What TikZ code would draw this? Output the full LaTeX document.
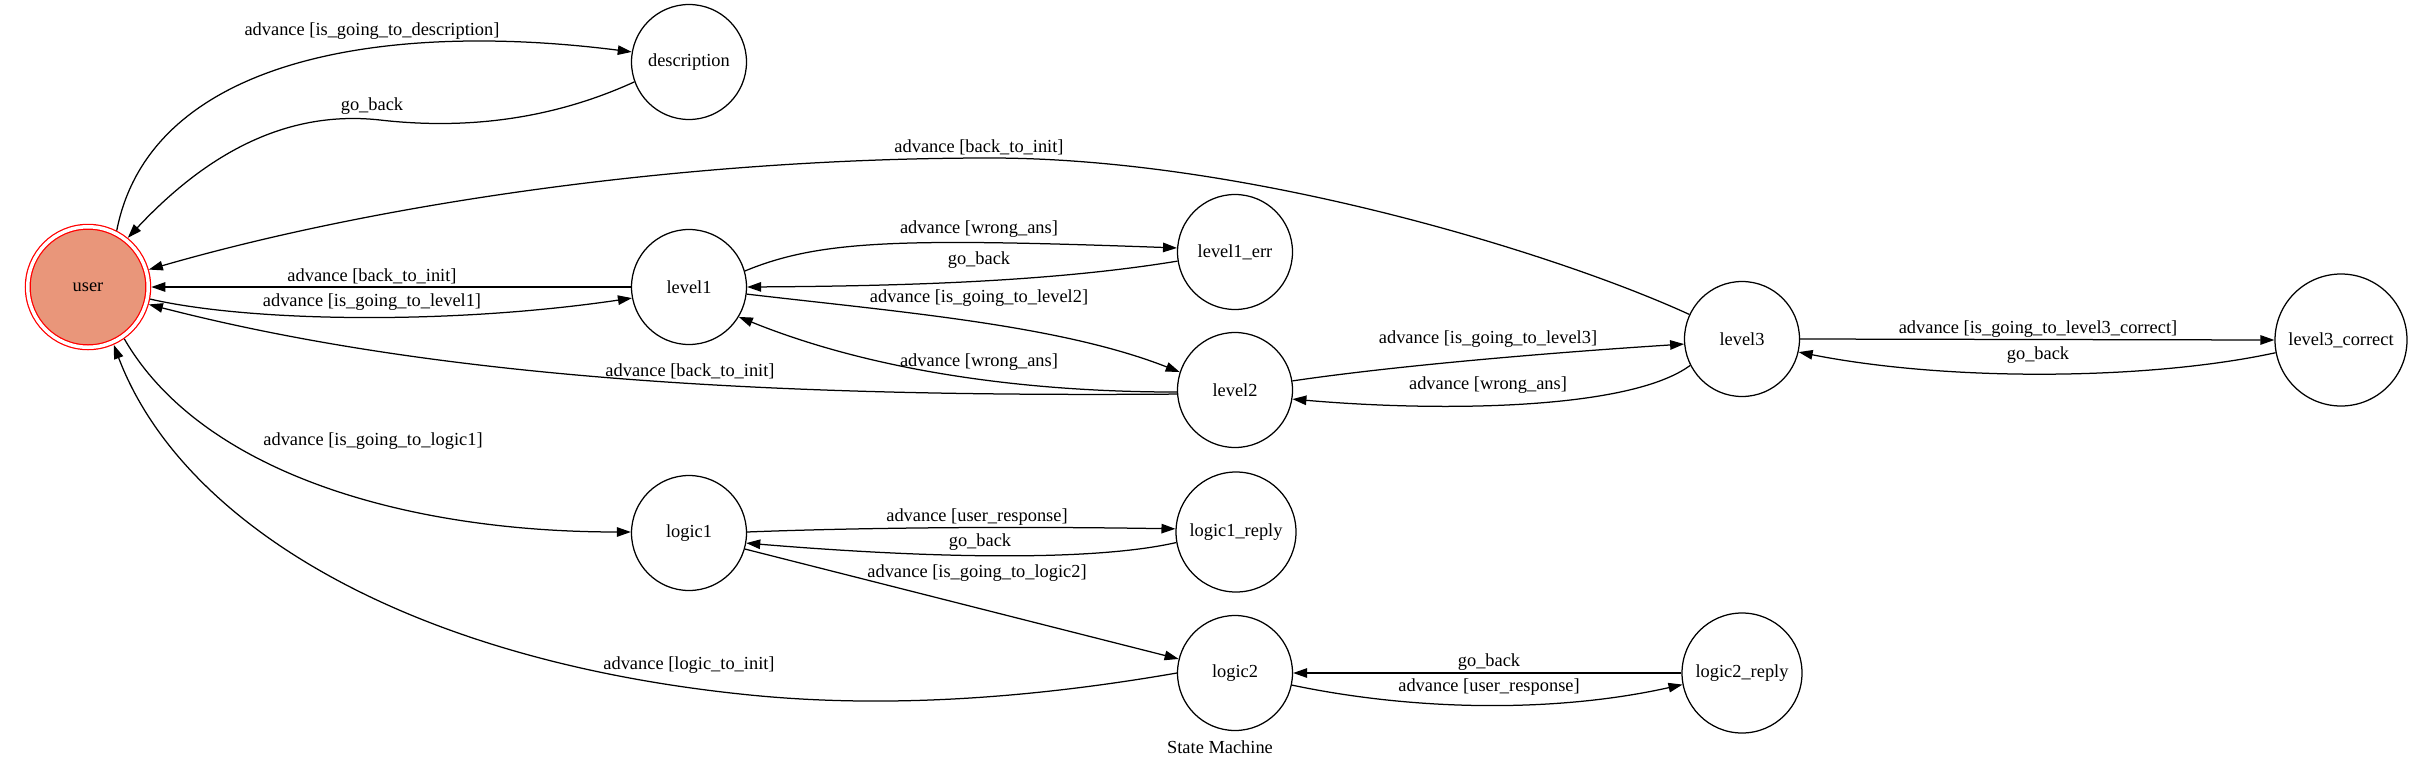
\documentclass[tikz,border=0pt]{standalone}
\usepackage{fontspec}
\setmainfont{Liberation Serif}
\usetikzlibrary{arrows.meta}
\definecolor{usersalmon}{RGB}{233,150,122}
\newcommand\lblfont{\fontsize{18.4pt}{22pt}\selectfont}
\begin{document}
\begin{tikzpicture}[x=1pt,y=-1pt,
  state/.style={circle, draw=black, line width=1.25pt, inner sep=0pt, minimum size=115pt, font=\lblfont},
  bigstate/.style={state, minimum size=120pt},
  hugestate/.style={state, minimum size=132pt},
  initstate/.style={state, draw=red, fill=usersalmon, double=white, double distance=3.5pt, minimum size=120.5pt, outer sep=3.05pt},
  edge/.style={line width=1.25pt, draw=black, -{Triangle[length=14pt,width=9.5pt]}},
  lbl/.style={font=\lblfont, inner sep=0pt}]
\useasboundingbox (0,0) rectangle (2433,769);
% nodes
\node[initstate] (user) at (88,287) {user};
\node[state] (description) at (689,62) {description};
\node[state] (level1) at (689,287) {level1};
\node[state] (level1_err) at (1235,252) {level1\_err};
\node[state] (level2) at (1235,390) {level2};
\node[state] (level3) at (1742,339) {level3};
\node[hugestate] (level3_correct) at (2341,340) {level3\_correct};
\node[state] (logic1) at (689,533) {logic1};
\node[bigstate] (logic1_reply) at (1236,532) {logic1\_reply};
\node[state] (logic2) at (1235,673) {logic2};
\node[bigstate] (logic2_reply) at (1742,673) {logic2\_reply};
% edges
\draw[edge] (user.63) .. controls (150,60) and (380,20) .. (description.170);
\draw[edge] (description.200) .. controls (540,125) and (450,128) .. (380,120) .. controls (290,110) and (210,150) .. (user.51);
\draw[edge] (level3.155) .. controls (1560,255) and (1250,158) .. (990,158) .. controls (700,158) and (390,200) .. (user.16);
\draw[edge] (level1.180) -- (user.0);
\draw[edge] (user.-11) .. controls (250,322) and (450,325) .. (level1.191);
\draw[edge] (level2.184) .. controls (800,397) and (450,382) .. (user.-16);
\draw[edge] (level1.16) .. controls (820,240) and (900,238) .. (level1_err.176);
\draw[edge] (level1_err.189) .. controls (1050,282) and (900,286) .. (level1.0);
\draw[edge] (level1.-7) .. controls (900,312) and (1060,325) .. (level2.162);
\draw[edge] (level2.182) .. controls (1020,392) and (870,370) .. (level1.-31);
\draw[edge] (level2.9) .. controls (1400,365) and (1560,352) .. (level3.185);
\draw[edge] (level3.207) .. controls (1630,410) and (1440,412) .. (level2.-9);
\draw[edge] (level3.0) -- (level3_correct.180);
\draw[edge] (level3_correct.191) .. controls (2150,380) and (1950,382) .. (level3.-13);
\draw[edge] (user.-55) .. controls (200,470) and (400,532) .. (logic1.179);
\draw[edge] (logic2.180) .. controls (1050,695) and (900,710) .. (750,695) .. controls (400,660) and (180,520) .. (user.-66);
\draw[edge] (logic1.1) .. controls (850,528) and (1000,526) .. (logic1_reply.177);
\draw[edge] (logic1_reply.190) .. controls (1100,560) and (950,560) .. (logic1.-10);
\draw[edge] (logic1.-16) -- (logic2.166);
\draw[edge] (logic2_reply.180) -- (logic2.0);
\draw[edge] (logic2.-12) .. controls (1420,712) and (1560,712) .. (logic2_reply.191);
% labels
\node[lbl] (l1) at (372,31) {advance [is\_going\_to\_description]};
\node[lbl] (l2) at (372,106) {go\_back};
\node[lbl] (l3) at (979,147) {advance [back\_to\_init]};
\node[lbl] (l4) at (372,276) {advance [back\_to\_init]};
\node[lbl] (l5) at (372,302) {advance [is\_going\_to\_level1]};
\node[lbl] (l6) at (690,371) {advance [back\_to\_init]};
\node[lbl] (l7) at (979,229) {advance [wrong\_ans]};
\node[lbl] (l8) at (979,260) {go\_back};
\node[lbl] (l9) at (979,298) {advance [is\_going\_to\_level2]};
\node[lbl] (l10) at (979,362) {advance [wrong\_ans]};
\node[lbl] (l11) at (1488,339) {advance [is\_going\_to\_level3]};
\node[lbl] (l12) at (1488,385) {advance [wrong\_ans]};
\node[lbl] (l13) at (2038,329) {advance [is\_going\_to\_level3\_correct]};
\node[lbl] (l14) at (2038,355) {go\_back};
\node[lbl] (l15) at (373,441) {advance [is\_going\_to\_logic1]};
\node[lbl] (l16) at (689,665) {advance [logic\_to\_init]};
\node[lbl] (l17) at (977,517) {advance [user\_response]};
\node[lbl] (l18) at (980,542) {go\_back};
\node[lbl] (l19) at (977,573) {advance [is\_going\_to\_logic2]};
\node[lbl] (l20) at (1489,662) {go\_back};
\node[lbl] (l21) at (1489,687) {advance [user\_response]};
\node[lbl] (title) at (1220,747) {State Machine};
\end{tikzpicture}
\end{document}
